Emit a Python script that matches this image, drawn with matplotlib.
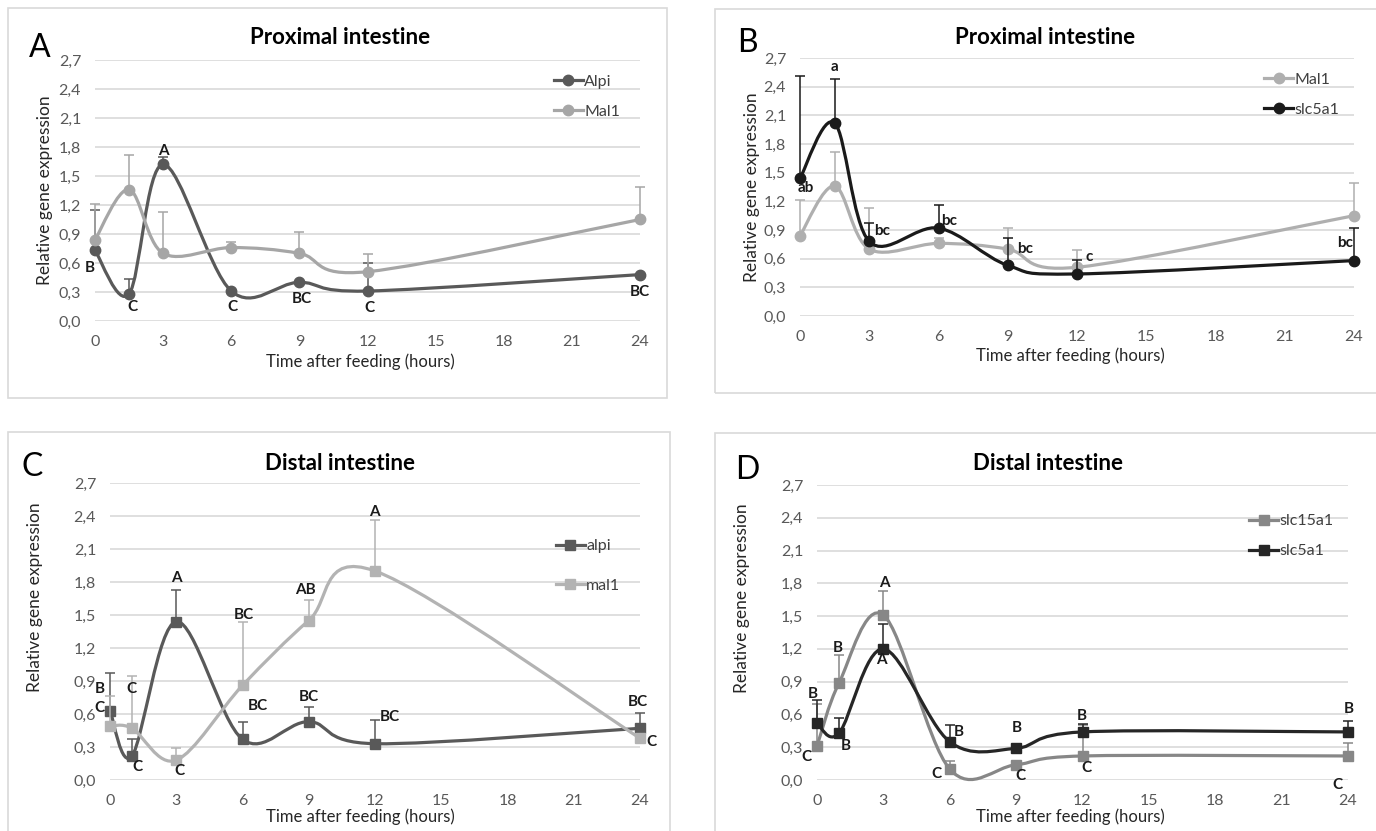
import numpy as np
import matplotlib
matplotlib.use("Agg")
import matplotlib.pyplot as plt
from matplotlib.path import Path
from matplotlib.patches import PathPatch, Rectangle
from matplotlib.lines import Line2D

plt.rcParams["font.family"] = ["Lato", "DejaVu Sans"]

# ---- data ----
hours_prox = [0, 1.5, 3, 6, 9, 12, 24]
hours_dist = [0, 1, 3, 6, 9, 12, 24]

a_alpi = [0.73, 0.28, 1.62, 0.31, 0.40, 0.31, 0.48]
a_alpi_err = [0.42, 0.15, 0.08, 0.0, 0.0, 0.29, 0.0]
a_alpi_lbl = ["B", "C", "A", "C", "BC", "C", "BC"]
mal1_prox = [0.84, 1.36, 0.70, 0.76, 0.70, 0.51, 1.05]
mal1_prox_err = [0.37, 0.36, 0.43, 0.06, 0.22, 0.18, 0.34]

b_slc5a1 = [1.44, 2.02, 0.78, 0.92, 0.53, 0.44, 0.58]
b_slc5a1_err = [1.07, 0.46, 0.19, 0.24, 0.29, 0.15, 0.34]
b_slc5a1_lbl = ["ab", "a", "bc", "bc", "bc", "c", "bc"]

c_alpi = [0.63, 0.22, 1.44, 0.37, 0.53, 0.33, 0.47]
c_alpi_err = [0.34, 0.15, 0.29, 0.16, 0.13, 0.22, 0.14]
c_alpi_lbl = ["C", "C", "A", "BC", "BC", "BC", "BC"]
c_mal1 = [0.49, 0.47, 0.18, 0.86, 1.45, 1.90, 0.38]
c_mal1_err = [0.27, 0.48, 0.11, 0.58, 0.19, 0.46, 0.0]
c_mal1_lbl = ["B", "C", "C", "BC", "AB", "A", "C"]

d_slc15a1 = [0.31, 0.89, 1.51, 0.10, 0.14, 0.22, 0.22]
d_slc15a1_err = [0.39, 0.25, 0.22, 0.07, 0.0, 0.28, 0.12]
d_slc15a1_lbl = ["C", "B", "A", "C", "C", "C", "C"]
d_slc5a1 = [0.52, 0.43, 1.20, 0.35, 0.29, 0.44, 0.44]
d_slc5a1_err = [0.21, 0.14, 0.23, 0.15, 0.0, 0.07, 0.10]
d_slc5a1_lbl = ["B", "B", "A", "B", "B", "B", "B"]

y_ticks = [0.0, 0.3, 0.6, 0.9, 1.2, 1.5, 1.8, 2.1, 2.4, 2.7]
x_ticks = [0, 3, 6, 9, 12, 15, 18, 21, 24]

# ---- letter offsets (pixels) ----
off_a_alpi = [(-5, -18), (3, -13), (0, 13), (1, -16), (2, -17), (2, -17), (0, -17)]
off_b_slc = [(6, -10), (0, 56), (13, 10), (11, 7), (17, 16), (12, 17), (-9, 18)]
off_c_alpi = [(-11, 3), (5, -11), (0, 44), (15, 33), (0, 25), (15, 27), (-2, 26)]
off_c_mal1 = [(-10, 37), (-1, 39), (3, -11), (1, 70), (-3, 31), (-1, 59), (11, -4)]
off_d_slc15 = [(-11, -11), (-1, 35), (1, 32), (-13, -5), (4, -11), (4, -12), (-11, -29)]
off_d_slc5 = [(-4, 29), (7, -13), (-2, -11), (9, 10), (1, 20), (-1, 16), (1, 23)]

W, H = 1376, 831
fig = plt.figure(figsize=(W / 100, H / 100), dpi=100)
fig.patch.set_facecolor("white")


def fx(px):
    return px / W


def fy(py):
    return 1 - py / H


def smooth_path(x, y):
    pts = np.column_stack([x, y]).astype(float)
    n = len(pts)
    verts = [pts[0]]
    codes = [Path.MOVETO]
    for i in range(n - 1):
        p0 = pts[i - 1] if i > 0 else pts[i]
        p1, p2 = pts[i], pts[i + 1]
        p3 = pts[i + 2] if i + 2 < n else pts[i + 1]
        verts += [p1 + (p2 - p0) / 6, p2 - (p3 - p1) / 6, p2]
        codes += [Path.CURVE4] * 3
    return Path(verts, codes)


def draw_series(ax, x, y, err, color, marker, z):
    ax.add_patch(PathPatch(smooth_path(x, y), facecolor="none", edgecolor=color,
                           lw=2.3, clip_on=False, zorder=z))
    idx = [i for i, e in enumerate(err) if e > 0]
    ax.errorbar([x[i] for i in idx], [y[i] for i in idx],
                yerr=[[0] * len(idx), [err[i] for i in idx]],
                fmt="none", ecolor=color, elinewidth=1.1, capsize=3.5,
                capthick=1.1, clip_on=False, zorder=z)
    ax.plot(x, y, linestyle="none", marker=marker, ms=7.5, color=color,
            clip_on=False, zorder=z + 0.5)


def letters(ax, x, y, lbls, offs):
    for xi, yi, t, o in zip(x, y, lbls, offs):
        ax.annotate(t, (xi, yi), xytext=o, textcoords="offset pixels",
                    ha="center", va="center", fontsize=11,
                    fontweight="bold", color="#1a1a1a", zorder=10,
                    annotation_clip=False)


def setup(rect_px):
    l, r, b, t = rect_px
    ax = fig.add_axes([fx(l), fy(b), fx(r - l), (b - t) / H])
    ax.set_xlim(0, 24)
    ax.set_ylim(0, 2.7)
    ax.set_yticks(y_ticks)
    ax.set_yticklabels([f"{v:.1f}".replace(".", ",") for v in y_ticks])
    ax.set_xticks(x_ticks)
    ax.tick_params(length=0, labelsize=11.5, labelcolor="#595959", pad=10)
    for s in ax.spines.values():
        s.set_visible(False)
    ax.grid(axis="y", color="#d9d9d9", lw=1.2)
    ax.set_axisbelow(True)
    return ax


def legend(ax, entries, anchor, spacing):
    handles = [Line2D([0], [0], color=c, marker=m, ms=7.5, lw=2.3) for c, m, _ in entries]
    ax.legend(handles, [e[2] for e in entries], loc="upper right",
              bbox_to_anchor=anchor, frameon=False, fontsize=11.5,
              handlelength=1.8, handletextpad=0.1, labelspacing=spacing,
              labelcolor="#404040")


def panel_text(letter, lpos, title, tpos, ylpos, xlpos):
    fig.text(fx(lpos[0]), fy(lpos[1]), letter, fontsize=23, ha="center", va="center")
    fig.text(fx(tpos[0]), fy(tpos[1]), title, fontsize=16, fontweight="bold",
             ha="center", va="center")
    fig.text(fx(ylpos[0]), fy(ylpos[1]), "Relative gene expression", fontsize=12.5,
             rotation=90, ha="center", va="center", color="#262626")
    fig.text(fx(xlpos[0]), fy(xlpos[1]), "Time after feeding (hours)", fontsize=12,
             ha="center", va="center", color="#262626")


# panel frames
for (l, t, r, b) in [(8, 8, 667, 398), (715, 9, 1390, 393), (8, 432, 670, 845), (715, 433, 1390, 845)]:
    fig.add_artist(Rectangle((fx(l), fy(b)), fx(r - l), (b - t) / H, transform=fig.transFigure,
                             fill=False, edgecolor="#d9d9d9", lw=1.2))

# A
dark, light = "#595959", "#a6a6a6"
axA = setup((95, 640, 321, 60))
draw_series(axA, hours_prox, a_alpi, a_alpi_err, dark, "o", 3)
draw_series(axA, hours_prox, mal1_prox, mal1_prox_err, light, "o", 4)
letters(axA, hours_prox, a_alpi, a_alpi_lbl, off_a_alpi)
legend(axA, [(dark, "o", "Alpi"), (light, "o", "Mal1")], (0.99, 1.0), 1.0)
panel_text("A", (40, 48), "Proximal intestine", (340, 37), (45, 190), (360, 362))

# B
blk = "#1a1a1a"
axB = setup((800, 1354, 316, 58))
draw_series(axB, hours_prox, mal1_prox, mal1_prox_err, "#afafaf", "o", 3)
draw_series(axB, hours_prox, b_slc5a1, b_slc5a1_err, blk, "o", 4)
letters(axB, hours_prox, b_slc5a1, b_slc5a1_lbl, off_b_slc)
legend(axB, [("#afafaf", "o", "Mal1"), (blk, "o", "slc5a1")], (1.0, 1.0), 1.0)
panel_text("B", (747, 43), "Proximal intestine", (1045, 37), (752, 187), (1070, 356))

# C
axC = setup((110, 640, 780, 483))
draw_series(axC, hours_dist, c_alpi, c_alpi_err, dark, "s", 3)
draw_series(axC, hours_dist, c_mal1, c_mal1_err, "#b3b3b3", "s", 4)
letters(axC, hours_dist, c_alpi, c_alpi_lbl, off_c_alpi)
letters(axC, hours_dist, c_mal1, c_mal1_lbl, off_c_mal1)
legend(axC, [(dark, "s", "alpi"), ("#b3b3b3", "s", "mal1")], (0.99, 0.86), 1.6)
panel_text("C", (32, 467), "Distal intestine", (340, 463), (35, 597), (360, 817))

# D
axD = setup((817, 1348, 780, 485))
draw_series(axD, hours_dist, d_slc15a1, d_slc15a1_err, "#878787", "s", 3)
draw_series(axD, hours_dist, d_slc5a1, d_slc5a1_err, "#262626", "s", 4)
letters(axD, hours_dist, d_slc15a1, d_slc15a1_lbl, off_d_slc15)
letters(axD, hours_dist, d_slc5a1, d_slc5a1_lbl, off_d_slc5)
legend(axD, [("#878787", "s", "slc15a1"), ("#262626", "s", "slc5a1")], (1.0, 0.95), 1.0)
panel_text("D", (747, 470), "Distal intestine", (1048, 463), (742, 598), (1070, 817))

fig.savefig("out.png", dpi=100)
